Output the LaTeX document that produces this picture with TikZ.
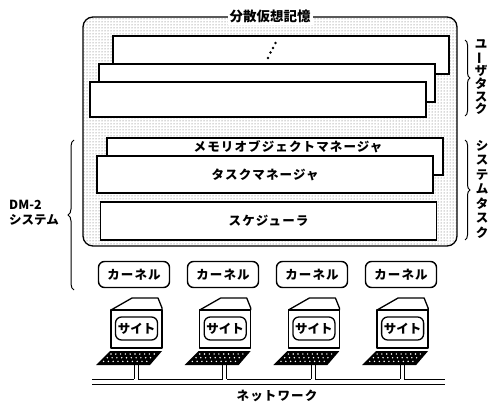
\documentclass[tikz,border=0pt]{standalone}
\usepackage{fontspec}
\setmainfont{Noto Sans CJK JP}
\newfontfamily\wide{Noto Sans CJK JP}[LetterSpace=9]
\usetikzlibrary{patterns}
\usetikzlibrary{decorations.pathreplacing}

\begin{document}
\begin{tikzpicture}[x=1pt, y=-1pt,
    every node/.style={font=\bfseries\fontsize{12.5}{14}\selectfont},
    boxtext/.style={font=\wide\bfseries\fontsize{12.5}{14}\selectfont},
    memory/.style={draw, line width=1.3pt, rounded corners=10pt, fill=gray!14, pattern=dots, pattern color=black!65, inner sep=0pt},
    taskbox/.style={draw, fill=white, line width=1.5pt, minimum width=336pt, inner sep=0pt},
    kernel/.style={draw, line width=1.4pt, rounded corners=6pt, minimum width=71pt, minimum height=26pt, inner sep=0pt},
    screen/.style={draw, line width=1.3pt, rounded corners=6pt, minimum width=42pt, minimum height=23pt, inner sep=0pt},
    tbrace/.style={decorate, decoration={brace, amplitude=5pt}, line width=1pt},
    vlabel/.style={align=center, inner sep=0pt},
    case/.style={line width=1.3pt, line join=round},
    stem/.style={line width=1pt}]
    \path[use as bounding box] (0,0) rectangle (489,403);

    \node[memory, minimum width=374pt, minimum height=229pt] (mem) at (270,131.5) {};
    \node[fill=white, inner sep=2pt, font=\bfseries\fontsize{13.5}{15}\selectfont] (title) at (mem.north) {分散仮想記憶};

    \node[taskbox, minimum height=38pt] (ut3) at (281,55) {};
    \node[taskbox, minimum height=38pt] (ut2) at (267,83) {};
    \node[taskbox, minimum height=35pt] (ut1) at (258,99.5) {};
    \foreach \p in {(268,58),(270.5,52.5),(273,48),(275.5,43)}
        \fill \p circle (1.3pt);

    \node[taskbox, minimum height=37pt] (mom) at (275,156.5) {};
    \node[boxtext, inner sep=0pt] (momtext) at (288,146.5) {メモリオブジェクトマネージャ};
    \node[taskbox, minimum height=37pt, boxtext] (tmgr) at (265,174.5) {タスクマネージャ};
    \node[taskbox, minimum height=38pt, boxtext] (sched) at (268.5,221) {スケジューラ};

    \draw[tbrace] (465,40) -- (465,116);
    \node[vlabel, font=\bfseries\fontsize{12.5}{12.8}\selectfont] (user) at (481,77) {ユ\\\rotatebox[origin=c]{90}{ー}\\ザ\\タ\\ス\\ク};
    \draw[tbrace] (465,140) -- (465,240);
    \node[vlabel, font=\bfseries\fontsize{12.5}{14.5}\selectfont] (sys) at (482,189) {シ\\ス\\テ\\ム\\タ\\ス\\ク};

    \draw[tbrace, decoration={amplitude=6pt}] (74,290) -- (74,140);
    \node[align=left, anchor=west, inner sep=0pt, font=\bfseries\fontsize{12.5}{14.5}\selectfont] (dm) at (9,213) {DM-2\\システム};

    \foreach \i in {1,...,4}
        \node[kernel, boxtext] (k\i) at ({134+89*(\i-1)},274.5) {カーネル};

    \coordinate (netL) at (92,379);
    \coordinate (netR) at (445,379);
    \draw[line width=1pt] (netL) -- (netR);
    \draw[line width=1.8pt] ([yshift=-5.5pt]netL) -- ([yshift=-5.5pt]netR);

    \foreach \i in {1,...,4} {
        \pgfmathsetmacro\cx{136+88.7*(\i-1)}
        \draw[case] (\cx-25,310) rectangle (\cx+26,348);
        \draw[case] (\cx-25,310) -- (\cx-4,298) -- (\cx+22,298) -- (\cx+26,308) -- (\cx+26,310);
        \node[screen, font=\bfseries\fontsize{12.5}{14}\selectfont] (s\i) at (\cx+0.5,328.5) {サイト};
        \fill (\cx-26,351) -- (\cx+26,351) -- (\cx+14,365) -- (\cx-40,365) -- cycle;
        \foreach \r in {0,1,2}
            \foreach \c in {0,...,9}
                \fill[white] ({\cx-25-3.7*\r+4.8*\c},{354+3.7*\r}) circle (0.8pt);
        \coordinate (kb\i) at (\cx,365);
        \fill[white] ([xshift=-2pt]kb\i |- netL) ++(0,-1.5) rectangle ++(4,3);
        \draw[stem] ([xshift=-2pt]kb\i) -- ([xshift=-2pt]kb\i |- netL);
        \draw[stem] ([xshift=2pt]kb\i) -- ([xshift=2pt]kb\i |- netL);
    }

    \node[boxtext] (net) at (277,396) {ネットワーク};
\end{tikzpicture}
\end{document}
